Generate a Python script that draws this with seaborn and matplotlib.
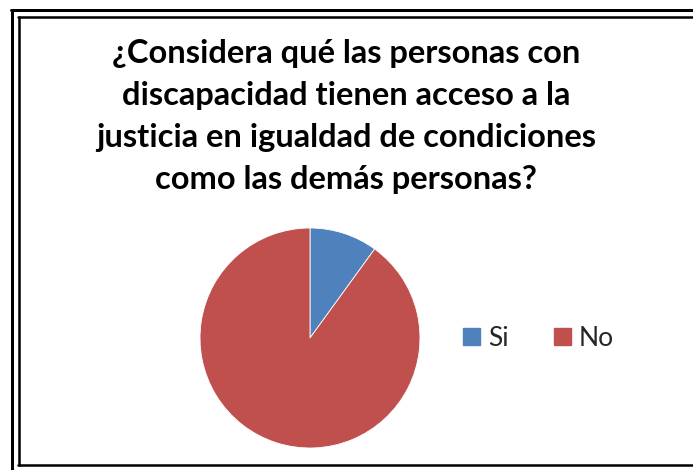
import matplotlib
matplotlib.use("Agg")
import matplotlib.pyplot as plt
from matplotlib.lines import Line2D
from matplotlib.patches import Patch
import seaborn as sns

sns.set_style("white")
plt.rcParams["font.family"] = ["Lato", "DejaVu Sans"]

title_lines = [
    "¿Considera qué las personas con",
    "discapacidad tienen acceso a la",
    "justicia en igualdad de condiciones",
    "como las demás personas?",
]
categories = ["Si", "No"]
values = [10, 90]
colors = ["#4F81BD", "#C0504D"]

W, H = 693, 470
fig = plt.figure(figsize=(W / 100, H / 100), dpi=100)
fig.patch.set_facecolor("white")

def fx(px):
    return px / W

def fy(py):
    return 1 - py / H

# double frame around the chart area
lw_outer = 3 * 72 / 100
lw_inner = 2.5 * 72 / 100
fig.add_artist(Line2D([fx(12.5), fx(12.5)], [fy(9.5), fy(H + 5)], color="black", lw=lw_outer))
fig.add_artist(Line2D([fx(11), fx(W + 5)], [fy(9.5), fy(9.5)], color="black", lw=lw_outer))
fig.add_artist(Line2D([fx(18.5), fx(18.5)], [fy(16.5), fy(464.5)], color="black", lw=lw_inner))
fig.add_artist(Line2D([fx(17.5), fx(W + 5)], [fy(16.5), fy(16.5)], color="black", lw=lw_inner))
fig.add_artist(Line2D([fx(17.5), fx(W + 5)], [fy(464.5), fy(464.5)], color="black", lw=lw_inner))

# title
for i, line in enumerate(title_lines):
    fig.text(fx(346), fy(53 + i * 42), line, ha="center", va="center",
             fontsize=23.5, fontweight="bold", color="black")

# pie
cx, cy, r = 310, 338, 110
ax = fig.add_axes([fx(cx - r), fy(cy + r), (2 * r) / W, (2 * r) / H])
ax.pie(values, colors=colors, startangle=90, counterclock=False,
       wedgeprops=dict(linewidth=0.6, edgecolor="white"))
ax.set_xlim(-1, 1)
ax.set_ylim(-1, 1)
ax.set_aspect("auto")
ax.axis("off")

handles = [Patch(facecolor=c, edgecolor=c) for c in colors]
fig.legend(handles, categories, loc="center left",
           bbox_to_anchor=(fx(463), fy(338)), ncol=2, frameon=False,
           fontsize=19, handlelength=0.64, handleheight=0.64,
           handletextpad=0.3, columnspacing=1.72,
           borderpad=0, borderaxespad=0)

fig.savefig("out.png", dpi=100)
